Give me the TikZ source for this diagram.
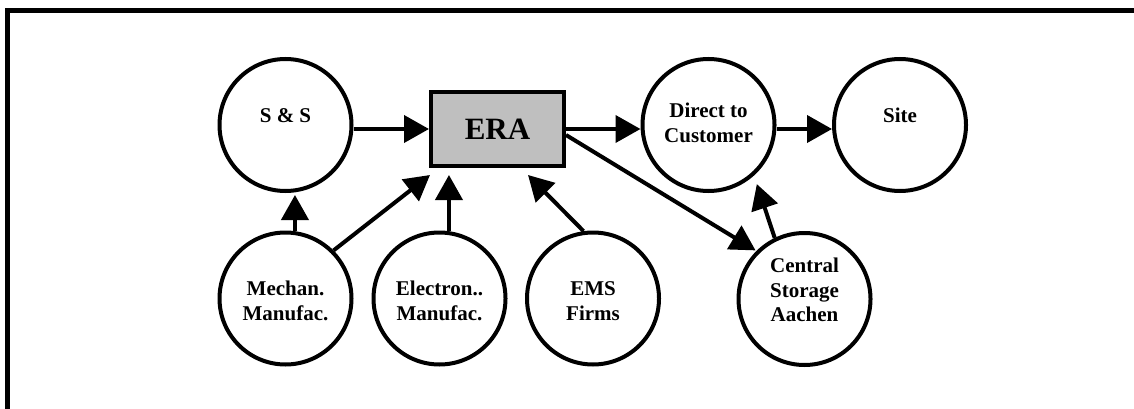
\documentclass[tikz,border=0pt]{standalone}
\usepackage{fontspec}
\setmainfont{Liberation Serif}
\usetikzlibrary{arrows.meta,calc}

\tikzset{
  hub/.style={circle, draw, line width=4pt, minimum size=132pt, inner sep=0pt},
  center box/.style={rectangle, draw, line width=4pt, fill=black!25,
    minimum width=133pt, minimum height=74pt, inner sep=0pt,
    font=\fontsize{31}{34}\selectfont\bfseries},
  lbl/.style={align=center, inner sep=0pt,
    font=\fontsize{21}{24.4}\selectfont\bfseries},
  arr/.style={line width=4pt, -{Triangle[length=25pt,width=27pt]}},
  frame/.style={line width=5pt, line join=miter}
}

\begin{document}
\begin{tikzpicture}[x=1pt, y=-1pt]
\useasboundingbox (0,0) rectangle (1134,409);

% outer frame (top and left sides)
\draw[frame] (7.5,409) -- (7.5,10.8) -- (1134,10.8);

% upper row
\node[hub] (ss) at (285.5,125) {};
\node[lbl] (sst) at (285.5,116) {S \& S};
\node[center box] (era) at (497.5,129) {ERA};
\node[hub] (dc) at (708.5,125) {};
\node[lbl] (dct) at (708.5,123) {Direct to\\Customer};
\node[hub] (site) at (900,125) {};
\node[lbl] (sitet) at (900,115) {Site};

% lower row
\node[hub] (mm) at (285.5,298.5) {};
\node[lbl] (mmt) at (285.5,301) {Mechan.\\Manufac.};
\node[hub] (el) at (439.5,298.5) {};
\node[lbl] (elt) at (439.5,301) {Electron..\\Manufac.};
\node[hub] (ems) at (593,298.5) {};
\node[lbl] (emst) at (593,301) {EMS\\Firms};
\node[hub] (cs) at (804.5,299) {};
\node[lbl] (cst) at (804.5,290) {Central\\Storage\\Aachen};

\coordinate (eraLow) at ([shift={(0,7)}]era.south);

% flows along the top
\draw[arr] (ss.east |- era.west) -- (era.west);
\draw[arr] (era.east) -- (era.east -| dc.west);
\draw[arr] (dc.east |- era.east) -- (site.west |- era.east);

% supply into ERA
\draw[arr, shorten >=2pt] (mm.82) -- (mm.82 |- ss.south);
\draw[arr] (mm.45) -- ([shift={(1,7)}]era.south west);
\draw[arr] (el.82) -- (el.82 |- eraLow);
\draw[arr] (ems.98) -- ([shift={(-38,7)}]era.south east);

% distribution through storage
\draw[arr, shorten >=1pt] ([shift={(0,6)}]era.east) -- (cs.135);
\draw[arr, shorten >=9pt] (cs.116) -- (dc.-48);
\end{tikzpicture}
\end{document}
